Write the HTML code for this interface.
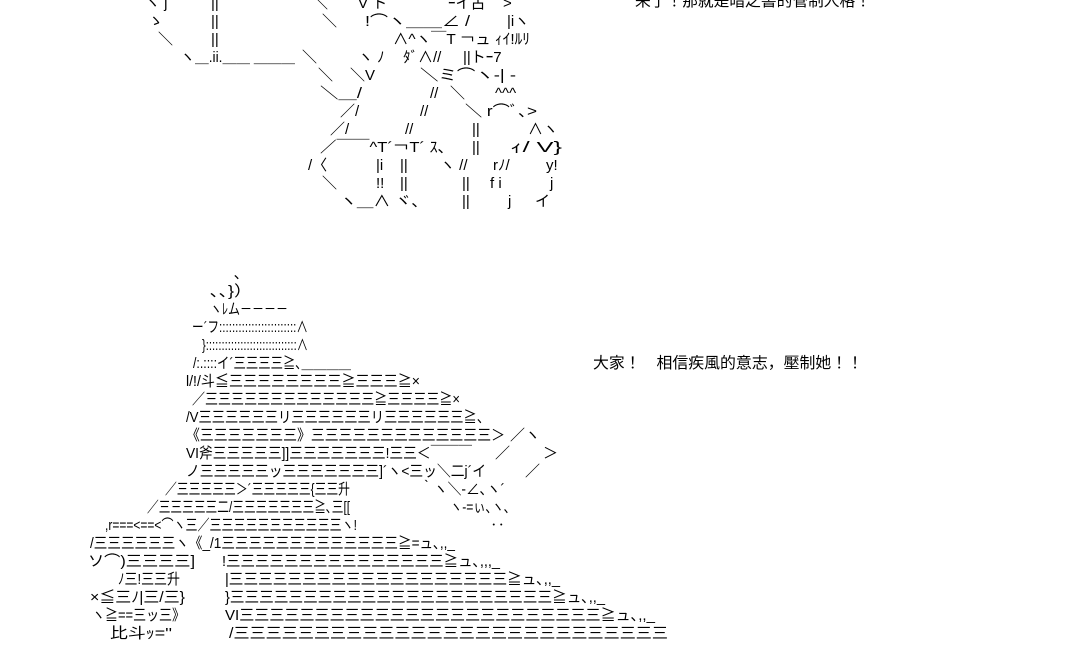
<!DOCTYPE html>
<html><head><meta charset="utf-8"><style>
html,body{margin:0;padding:0;background:#fff;width:1080px;height:660px;overflow:hidden}
svg{display:block}
text{font-family:"Liberation Sans","Noto Sans CJK JP",sans-serif;font-size:15px;fill:#000}
.t{font-size:15.5px}
</style></head><body>
<svg width="1080" height="660" viewBox="0 0 1080 660" xmlns="http://www.w3.org/2000/svg">
<!-- top right caption -->
<text class="t" x="635" y="6" textLength="236" lengthAdjust="spacingAndGlyphs">来了！那就是暗之書的管制人格！</text>
<!-- top figure -->
<g>
<text x="145" y="8">ヽ j</text><text x="211" y="8">||</text><text x="313" y="8">＼</text><text x="358" y="8">V ト</text><text x="448" y="8">ｰイ古</text><text x="503" y="8">&gt;</text>
<text x="148" y="26">ゝ</text><text x="211" y="26">||</text><text x="322" y="26">＼</text><text x="365" y="26" textLength="105" lengthAdjust="spacingAndGlyphs">!⌒ヽ＿＿∠ /</text><text x="507" y="26">|iヽ</text>
<text x="158" y="44">＼</text><text x="211" y="44">||</text><text x="393" y="44" textLength="137" lengthAdjust="spacingAndGlyphs">∧^ヽ￣T ￢ュ ｨｲ!ﾙﾘ</text>
<text x="180" y="62">ヽ</text><text x="195" y="62" textLength="100" lengthAdjust="spacingAndGlyphs">＿.ii.＿＿ ＿＿＿</text><text x="302" y="62">＼</text><text x="358" y="62">ヽ ﾉ</text><text x="403" y="62">ﾀﾞ∧//</text><text x="463" y="62">||トｰ7</text>
<text x="318" y="80">＼</text><text x="350" y="80">＼V</text><text x="420" y="80" textLength="96" lengthAdjust="spacingAndGlyphs">＼ミ⌒ヽ-| -</text>
<text x="320" y="98" textLength="42" lengthAdjust="spacingAndGlyphs">＼＿/</text><text x="430" y="98">//</text><text x="450" y="98">＼</text><text x="495" y="98">^^^</text>
<text x="340" y="116">／/</text><text x="420" y="116">//</text><text x="465" y="116" textLength="72" lengthAdjust="spacingAndGlyphs">＼ r⌒ﾞ､&gt;</text>
<text x="330" y="134">／/</text><text x="405" y="134">//</text><text x="472" y="134">||</text><text x="528" y="134">∧ヽ</text>
<text x="320" y="152" textLength="126" lengthAdjust="spacingAndGlyphs">／￣￣^T´￢T´ ｽ､</text><text x="472" y="152">||</text><text x="510" y="152" textLength="52" lengthAdjust="spacingAndGlyphs">ｨ/ V}</text>
<text x="308" y="170">/〈</text><text x="376" y="170">|i</text><text x="400" y="170">||</text><text x="440" y="170">ヽ //</text><text x="493" y="170">rﾉ/</text><text x="546" y="170">y!</text>
<text x="322" y="188">＼</text><text x="376" y="188">!!</text><text x="400" y="188">||</text><text x="462" y="188">||</text><text x="490" y="188">f i</text><text x="550" y="188">j</text>
<text x="340" y="206" textLength="80" lengthAdjust="spacingAndGlyphs">ヽ＿∧ ヾ､</text><text x="462" y="206">||</text><text x="508" y="206">j</text><text x="535" y="206">イ</text>
</g>
<!-- second caption -->
<text class="t" x="593" y="368" textLength="270" lengthAdjust="spacingAndGlyphs">大家！　相信疾風的意志，壓制她！！</text>
<!-- bottom figure -->
<g>
<text x="234" y="278">､</text>
<text x="210" y="296" textLength="42" lengthAdjust="spacingAndGlyphs">､､}）</text>
<text x="210" y="314" textLength="78" lengthAdjust="spacingAndGlyphs">ヽﾚム－－－－</text>
<text x="192" y="332" textLength="116" lengthAdjust="spacingAndGlyphs">ー´フ::::::::::::::::::::::::∧</text>
<text x="202" y="350" textLength="106" lengthAdjust="spacingAndGlyphs">}:::::::::::::::::::::::::::::∧</text>
<text x="193" y="368" textLength="158" lengthAdjust="spacingAndGlyphs">/:.::::イ´三三三三≧､＿＿＿＿</text>
<text x="186" y="386" textLength="234" lengthAdjust="spacingAndGlyphs">l/!/斗≦三三三三三三三三≧三三三≧×</text>
<text x="192" y="404" textLength="268" lengthAdjust="spacingAndGlyphs">／三三三三三三三三三三三三三≧三三三三≧×</text>
<text x="186" y="422" textLength="304" lengthAdjust="spacingAndGlyphs">/V三三三三三三リ三三三三三三リ三三三三三三≧、</text>
<text x="186" y="440" textLength="319" lengthAdjust="spacingAndGlyphs">《三三三三三三三》三三三三三三三三三三三三三＞</text>
<text x="510" y="440">／ヽ</text>
<text x="186" y="458" textLength="286" lengthAdjust="spacingAndGlyphs">VI斧三三三三三]]三三三三三三三!三三＜￣￣￣</text>
<text x="495" y="458">／</text><text x="543" y="458">＞</text>
<text x="186" y="476" textLength="300" lengthAdjust="spacingAndGlyphs">ノ三三三三三ッ三三三三三三三]´ヽ&lt;三ッ＼二j´イ</text>
<text x="525" y="476">／</text>
<text x="165" y="494" textLength="185" lengthAdjust="spacingAndGlyphs">／三三三三三＞´三三三三三{三三升</text>
<text x="420" y="494" textLength="85" lengthAdjust="spacingAndGlyphs">｀ヽ＼-∠､ヽ´</text>
<text x="147" y="512" textLength="203" lengthAdjust="spacingAndGlyphs">／三三三三三二/三三三三三三三≧､三[[</text>
<text x="450" y="512" textLength="60" lengthAdjust="spacingAndGlyphs">ヽ-=ぃ､ヽ､</text>
<text x="105" y="530" textLength="252" lengthAdjust="spacingAndGlyphs">,r===&lt;==&lt;⌒ヽ三／三三三三三三三三三三三ヽ!</text>
<text x="490" y="530">‥</text>
<text x="90" y="548" textLength="365" lengthAdjust="spacingAndGlyphs">/三三三三三三ヽ《_/1三三三三三三三三三三三三三≧=ュ､,,_</text>
<text x="88" y="566" textLength="107" lengthAdjust="spacingAndGlyphs">ソ⌒)三三三三]</text>
<text x="222" y="566" textLength="278" lengthAdjust="spacingAndGlyphs">!三三三三三三三三三三三三三三三≧ュ､,,,_</text>
<text x="118" y="584" textLength="62" lengthAdjust="spacingAndGlyphs">ﾉ三!三三升</text>
<text x="225" y="584" textLength="335" lengthAdjust="spacingAndGlyphs">|三三三三三三三三三三三三三三三三三三三≧ュ､,,_</text>
<text x="90" y="602" textLength="95" lengthAdjust="spacingAndGlyphs">×≦三ﾉ|三/三}</text>
<text x="225" y="602" textLength="380" lengthAdjust="spacingAndGlyphs">}三三三三三三三三三三三三三三三三三三三三三三≧ュ､,,_</text>
<text x="92" y="620" textLength="93" lengthAdjust="spacingAndGlyphs">ヽ≧==三ッ三》</text>
<text x="225" y="620" textLength="430" lengthAdjust="spacingAndGlyphs">VI三三三三三三三三三三三三三三三三三三三三三三三三≧ュ､,,_</text>
<text x="110" y="638" textLength="62" lengthAdjust="spacingAndGlyphs">比斗ｯ=''</text>
<text x="229" y="638" textLength="439" lengthAdjust="spacingAndGlyphs">/三三三三三三三三三三三三三三三三三三三三三三三三三三三</text>
</g>
</svg>
</body></html>
